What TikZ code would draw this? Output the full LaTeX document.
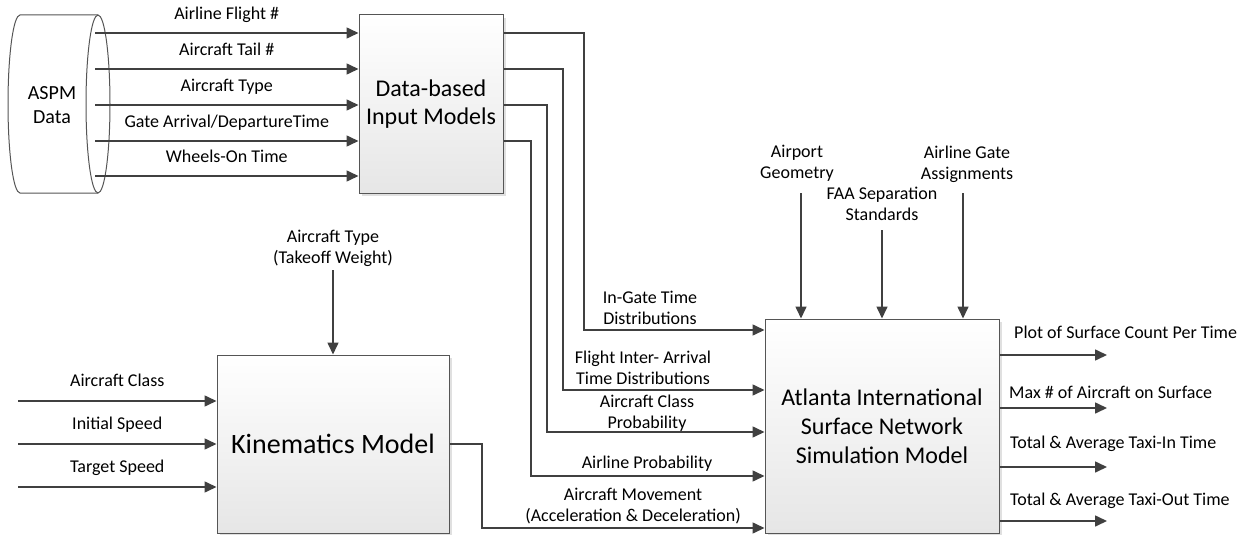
\documentclass[tikz,border=0pt]{standalone}
\usepackage{fontspec}
\setmainfont{Carlito}
\usetikzlibrary{arrows.meta, shadows, positioning}
\definecolor{linegray}{HTML}{404040}
\definecolor{edgegray}{HTML}{555555}
\definecolor{fillgray}{HTML}{E6E6E6}

\tikzset{
  arr/.style={draw=linegray, line width=1.6pt, -{Triangle[length=12pt,width=11pt]}},
  model/.style={draw=edgegray, line width=1pt, top color=white, bottom color=fillgray,
    align=center, inner sep=0pt,
    drop shadow={shadow xshift=3pt, shadow yshift=-3pt, fill=black!12, opacity=1}},
  lbl/.style={font=\fontsize{18}{21}\selectfont, align=center, inner sep=0pt},
  onelbl/.style={lbl, text height=12.5pt, text depth=3.5pt},
}

\begin{document}
\begin{tikzpicture}[x=1pt, y=-1pt]
\useasboundingbox (0,0) rectangle (1251,535);

% ASPM data store
\draw[edgegray, line width=1pt, fill=white] (20,15) -- (98,15)
  arc[start angle=90, end angle=-90, x radius=12pt, y radius=89pt] -- (20,193)
  arc[start angle=270, end angle=90, x radius=12pt, y radius=89pt] -- cycle;
\draw[edgegray, line width=1pt] (98,15) arc[start angle=90, end angle=270, x radius=12pt, y radius=89pt];
\node[align=center, font=\fontsize{20}{24}\selectfont] (aspm) at (52,105) {ASPM\\Data};

% Models
\node[model, minimum width=144pt, minimum height=178pt, font=\fontsize{24}{28}\selectfont]
  (data) at (431,104) {Data-based\\Input Models};
\node[model, minimum width=232pt, minimum height=178pt, font=\fontsize{28}{34}\selectfont]
  (kin) at (333,444) {Kinematics Model};
\node[model, minimum width=234pt, minimum height=214pt, font=\fontsize{24}{29}\selectfont]
  (atl) at (882,426) {Atlanta International\\Surface Network\\Simulation Model};

% ASPM fields
\coordinate (f1) at (95,33);
\coordinate (f2) at (95,69);
\coordinate (f3) at (95,105);
\coordinate (f4) at (95,141);
\coordinate (f5) at (95,176);
\draw[arr] (f1) -- (data.west |- f1) node[onelbl, midway, above=9pt]{Airline Flight \#};
\draw[arr] (f2) -- (data.west |- f2) node[onelbl, midway, above=9pt]{Aircraft Tail \#};
\draw[arr] (f3) -- (data.west |- f3) node[onelbl, midway, above=9pt]{Aircraft Type};
\draw[arr] (f4) -- (data.west |- f4) node[onelbl, midway, above=9pt]{Gate Arrival/DepartureTime};
\draw[arr] (f5) -- (data.west |- f5) node[onelbl, midway, above=9pt]{Wheels-On Time};

% Data-based outputs into the simulation
\draw[arr] (data.east |- 0,33) -| (584,330) -- (atl.west |- 0,330);
\draw[arr] (data.east |- 0,69) -| (563,390) -- (atl.west |- 0,390);
\draw[arr] (data.east |- 0,105) -| (547,432) -- (atl.west |- 0,432);
\draw[arr] (data.east |- 0,141) -| (531,476) -- (atl.west |- 0,476);
\node[lbl] (ingate) at (650,307.5) {In-Gate Time\\Distributions};
\node[lbl] (inter) at (643,367.5) {Flight Inter- Arrival\\Time Distributions};
\node[lbl] (cls) at (647,413) {Aircraft Class\\Probability};
\node[onelbl] (alprob) at (647,464) {Airline Probability};

% Kinematics inputs
\coordinate (k1) at (18,401);
\coordinate (k2) at (18,444);
\coordinate (k3) at (18,487);
\draw[arr] (k1) -- (kin.west |- k1) node[onelbl, midway, above=10pt]{Aircraft Class};
\draw[arr] (k2) -- (kin.west |- k2) node[onelbl, midway, above=10pt]{Initial Speed};
\draw[arr] (k3) -- (kin.west |- k3) node[onelbl, midway, above=10pt]{Target Speed};
\node[lbl] (actype) at (333,248) {Aircraft Type\\(Takeoff Weight)};
\draw[arr] (333,270) -- (kin.north);

% Kinematics output
\draw[arr] (kin.east) -| (482,528) -- (atl.west |- 0,528);
\node[lbl] (move) at (633,506) {Aircraft Movement\\(Acceleration \& Deceleration)};

% Simulation inputs from above
\node[lbl] (geo) at (797,163) {Airport\\Geometry};
\node[lbl] (faa) at (882,204) {FAA Separation\\Standards};
\node[lbl] (gate) at (967,164) {Airline Gate\\Assignments};
\draw[arr] (801,193) -- (atl.north -| 801,0);
\draw[arr] (882,230) -- (atl.north);
\draw[arr] (963,193) -- (atl.north -| 963,0);

% Simulation outputs
\draw[arr] (atl.east |- 0,355) -- (1107,355);
\draw[arr] (atl.east |- 0,408) -- (1107,408);
\draw[arr] (atl.east |- 0,467) -- (1107,467);
\draw[arr] (atl.east |- 0,521) -- (1107,521);
\node[onelbl, anchor=west] (o1) at (1014,334) {Plot of Surface Count Per Time};
\node[onelbl, anchor=west] (o2) at (1009,394) {Max \# of Aircraft on Surface};
\node[onelbl, anchor=west] (o3) at (1010,444) {Total \& Average Taxi-In Time};
\node[onelbl, anchor=west] (o4) at (1010,501) {Total \& Average Taxi-Out Time};
\end{tikzpicture}
\end{document}
